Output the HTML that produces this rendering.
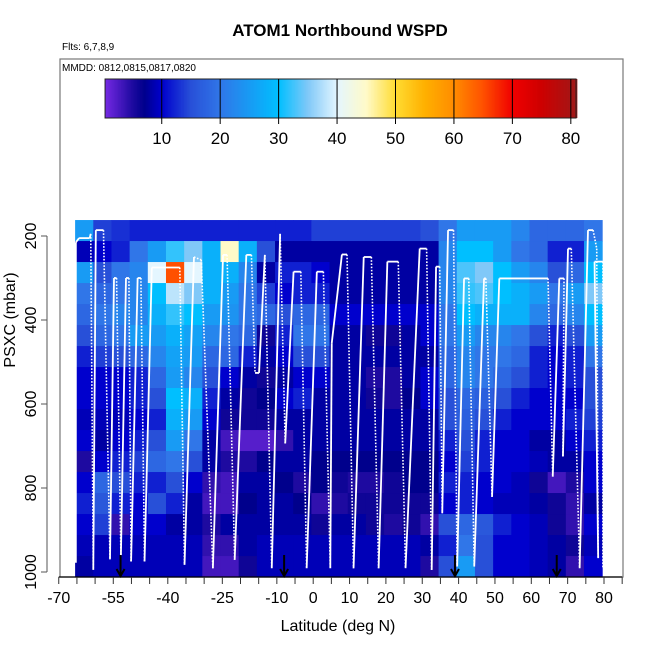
<!DOCTYPE html>
<html><head><meta charset="utf-8"><style>
body{margin:0;background:#fff}
svg{display:block;font-family:"Liberation Sans",sans-serif}
</style></head><body>
<svg id="chart" width="650" height="650" viewBox="0 0 650 650">
<text x="340" y="36" text-anchor="middle" font-size="17" font-weight="bold">ATOM1 Northbound WSPD</text>
<text x="62" y="50" font-size="10">Flts: 6,7,8,9</text>
<rect x="60" y="59" width="563" height="518" fill="none" stroke="#777" stroke-width="1.2"/>
<text x="62" y="71" font-size="10">MMDD: 0812,0815,0817,0820</text>
<g id="heat"></g>
<g id="track"></g>
<g id="cbar"></g>
<g id="axes"></g>
<text x="338" y="631" text-anchor="middle" font-size="16">Latitude (deg N)</text>
<text transform="translate(15,320) rotate(-90)" text-anchor="middle" font-size="16">PSXC (mbar)</text>
</svg>
<script>
const latEdges0 = -65.5, latStep = 5;
const presTop0 = 162, presStep = 50;
const windRows = [
[25,14,13,12,12,12,12,12,12,12,12,12,12,14,14,14,14,14,14,15,20,25,25,25,22,18,18,18,20],
[9,10,12,20,25,32,35,28,45,28,15,8,8,8,8,8,8,8,8,8,22,30,30,25,20,18,12,12,25],
[25,15,20,22,40,65,40,28,28,22,8,12,12,10,8,8,8,8,8,8,22,33,35,30,25,22,15,18,30],
[20,18,20,22,30,38,35,28,25,20,14,10,12,12,8,8,8,8,8,8,22,32,33,30,28,25,20,25,35],
[18,20,22,22,28,32,30,25,24,20,18,15,18,18,10,10,10,10,10,10,20,30,28,28,28,22,18,22,30],
[15,18,20,25,25,28,26,22,20,18,6,12,20,20,8,8,6,6,8,10,20,25,22,22,20,15,12,15,25],
[12,14,15,18,22,26,25,18,18,12,8,10,15,15,8,8,8,8,8,8,18,22,20,20,18,12,10,12,20],
[10,10,10,12,18,25,22,15,10,8,6,8,10,10,8,8,5,5,8,10,18,22,20,18,15,12,10,12,15],
[10,10,10,12,15,30,28,12,8,6,7,10,12,8,8,8,6,5,7,10,15,18,17,15,12,10,10,10,15],
[9,9,9,10,12,28,25,10,6,6,6,8,8,8,8,8,8,8,8,8,15,17,15,12,10,10,10,12,14],
[10,8,10,12,15,25,20,8,3,2,2,4,8,8,8,8,8,8,8,8,12,15,12,10,10,8,8,10,12],
[5,10,12,14,18,20,15,8,5,5,7,8,8,7,7,7,7,7,7,7,10,14,12,10,10,9,8,8,10],
[10,18,15,12,12,15,10,4,3,8,8,7,5,7,6,5,5,6,7,7,12,12,10,10,9,6,3,5,10],
[12,16,12,10,15,12,8,3,3,7,8,8,7,4,5,6,6,6,6,6,10,12,10,9,9,8,6,4,8],
[10,14,4,10,10,8,8,5,8,8,8,8,8,6,8,8,6,5,6,4,15,18,16,12,10,9,6,4,10],
[9,9,9,9,9,9,9,4,4,8,9,9,9,9,9,9,9,9,9,8,12,20,15,10,10,9,8,6,9],
[8,9,9,9,9,9,9,3,3,6,9,9,9,9,9,9,9,9,9,5,15,25,15,10,10,9,8,4,10]
];
const trackLat = [-65.3,-65.3,-64.4,-61.5,-61.2,-60.5,-59.8,-57.7,-55.9,-54.8,-54.1,-52.9,-51.5,-50.7,-50.1,-48.3,-47.4,-46.4,-44.4,-36.7,-35.4,-32.8,-30.8,-27.6,-24.8,-23.7,-21.6,-18.4,-17.0,-16.0,-14.9,-13.3,-11.4,-9.1,-7.7,-5.4,-3.4,-1.8,1.0,2.8,4.7,5.1,7.9,9.3,11.1,13.9,16.0,18.0,20.4,23.4,25.4,29.3,31.2,32.6,33.8,34.8,35.5,37.1,38.6,39.6,41.5,42.8,44.3,47.0,47.5,49.2,51.2,64.6,65.9,67.7,69.0,68.7,70.1,71.0,73.3,75.6,77.0,78.0,78.4,77.4,79.7,79.7];
const trackP = [978,215,205,205,195,995,186,186,970,300,300,960,300,300,975,300,300,975,275,275,983,250,257,991,245,245,971,245,245,526,526,245,991,195,694,285,285,991,285,285,991,455,244,244,991,250,250,991,261,261,991,230,230,995,273,273,860,186,186,987,301,301,987,301,301,821,301,301,773,301,301,725,230,230,991,186,186,230,967,261,261,990];
const arrowLats = [-53,-8,39,67];
const xTicks = [-70,-65,-60,-55,-50,-45,-40,-35,-30,-25,-20,-15,-10,-5,0,5,10,15,20,25,30,35,40,45,50,55,60,65,70,75,80,85];
const xLabels = [-70,-55,-40,-25,-10,0,10,20,30,40,50,60,70,80];
const yTicks = [200,400,600,800,1000];
const cbTicks = [10,20,30,40,50,60,70,80];

const NS='http://www.w3.org/2000/svg';
const xs = lat => 58.75 + (lat + 70) * 3.635;
const ys = p => 236 + (p - 200) * 0.42;
const cx = v => 103.3 + v * 5.844;
const stops = [[0,[123,43,232]],[5,[30,10,160]],[7,[0,0,140]],[10,[0,0,205]],[15,[40,80,216]],[20,[48,118,232]],[30,[0,191,255]],[35,[128,200,248]],[40,[228,246,255]],[45,[255,250,200]],[50,[255,220,50]],[55,[255,176,0]],[60,[255,140,0]],[65,[255,80,0]],[70,[240,0,0]],[75,[205,0,0]],[81,[160,24,24]]];
function col(v){
  for(let i=1;i<stops.length;i++){
    if(v<=stops[i][0]){const a=stops[i-1],b=stops[i];const t=(v-a[0])/(b[0]-a[0]);
      const c=a[1].map((x,k)=>Math.round(x+(b[1][k]-x)*t));return `rgb(${c})`;}
  }
  return 'rgb(160,24,24)';
}
function mk(tag,attrs,parent){const e=document.createElementNS(NS,tag);for(const k in attrs)e.setAttribute(k,attrs[k]);parent.appendChild(e);return e;}

const heat=document.getElementById('heat');
windRows.forEach((row,r)=>{
  row.forEach((v,c)=>{
    const l0=latEdges0+c*latStep, p0=presTop0+r*presStep;
    const x0=xs(l0), x1=xs(l0+latStep), y0=ys(p0), y1=ys(p0+presStep);
    const el=mk('rect',{x:x0,y:y0,width:x1-x0+0.5,height:y1-y0+0.5,fill:col(v)},heat);
    
    
  });
});

const track=document.getElementById('track');
for(let i=1;i<trackLat.length;i++){
  const up = trackP[i] <= trackP[i-1];
  const seg=mk('line',{x1:xs(trackLat[i-1]),y1:ys(trackP[i-1]),x2:xs(trackLat[i]),y2:ys(trackP[i]),stroke:'#fff','stroke-width':up?1.8:1.6,'stroke-dasharray':up?'none':'1.6,1.6'},track);
  
  
}

const axes=document.getElementById('axes');
const xl=mk('line',{x1:xs(-70),x2:xs(85),y1:577,y2:577,stroke:'#000','stroke-width':1.3},axes);


xTicks.forEach(t=>{
  const tk=mk('line',{x1:xs(t),x2:xs(t),y1:577,y2:584,stroke:'#333','stroke-width':1},axes);
  
  
});
xLabels.forEach(t=>{
  const tx=mk('text',{x:xs(t),y:603,'text-anchor':'middle','font-size':16},axes);
  tx.textContent=t;
  
  
});
const yl=mk('line',{x1:47,x2:47,y1:ys(200),y2:ys(1000),stroke:'#555','stroke-width':1},axes);


yTicks.forEach(t=>{
  const tk=mk('line',{x1:41,x2:47,y1:ys(t),y2:ys(t),stroke:'#555','stroke-width':1},axes);
  
  
  const tx=mk('text',{transform:`translate(36,${ys(t)}) rotate(-90)`,'text-anchor':'middle','font-size':16},axes);
  tx.textContent=t;
  
  
});
arrowLats.forEach(l=>{
  const x=xs(l);
  const a=mk('line',{x1:x,x2:x,y1:555,y2:575,stroke:'#000','stroke-width':2},axes);
  
  
  const h=mk('polyline',{points:`${x-4},${569} ${x},${576} ${x+4},${569}`,fill:'none',stroke:'#000','stroke-width':2},axes);
  
  
});

const cb=document.getElementById('cbar');
for(let v=0.3;v<80.9;v+=0.25){
  const r=mk('rect',{x:cx(v),y:79,width:5.844*0.25+0.4,height:39,fill:col(v+0.125)},cb);
  
  
}
const cbo=mk('rect',{x:cx(0.3),y:79,width:cx(80.9)-cx(0.3),height:39,fill:'none',stroke:'#222','stroke-width':1},cb);


cbTicks.forEach(t=>{
  const l=mk('line',{x1:cx(t),x2:cx(t),y1:79,y2:124,stroke:'#000','stroke-width':1},cb);
  
  
  const tx=mk('text',{x:cx(t),y:144,'text-anchor':'middle','font-size':17},cb);
  tx.textContent=t;
  
  
});
</script>
</body></html>
